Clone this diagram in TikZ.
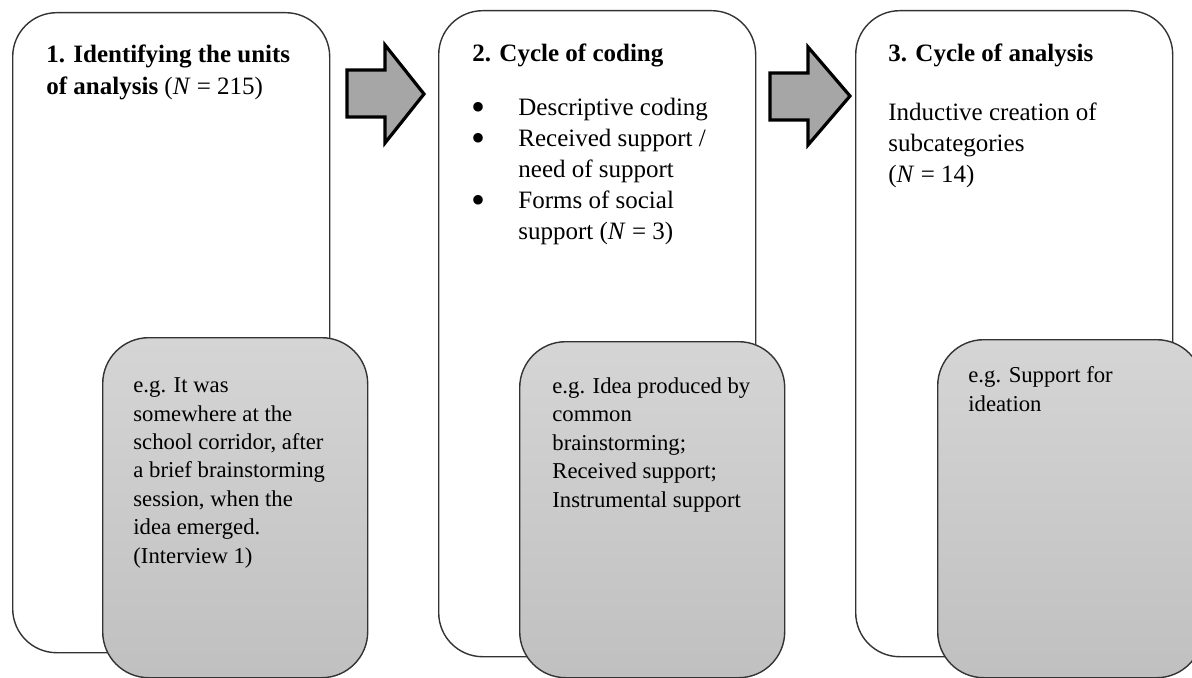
\documentclass[tikz,border=0pt]{standalone}
\usepackage{fontspec}
\setmainfont{Liberation Serif}
\definecolor{greyTop}{HTML}{D5D5D5}
\definecolor{greyBot}{HTML}{C0C0C0}
\definecolor{arrowGrey}{HTML}{A6A6A6}
\definecolor{edgeGrey}{HTML}{333333}
\newcommand{\bigbul}{\makebox[23.5pt][l]{\smash{\raisebox{-2.4pt}{\fontsize{20}{20}\selectfont •}}}}
\begin{document}
\begin{tikzpicture}[x=0.5pt,y=-0.5pt,
  whitebox/.style={draw=edgeGrey, line width=0.7pt, rounded corners=22pt, fill=white, inner sep=0pt, anchor=north west},
  greybox/.style={draw=edgeGrey, line width=0.7pt, rounded corners=23pt, top color=greyTop, bottom color=greyBot, inner sep=0pt, anchor=north west},
  blockarrow/.style={draw=black, line width=1.6pt, fill=arrowGrey, line join=miter},
  titletext/.style={anchor=base west, inner sep=0pt, align=left, font=\fontsize{12.5}{16}\selectfont},
  bodytext/.style={anchor=base west, inner sep=0pt, align=left, font=\fontsize{12.5}{15.5}\selectfont},
  notetext/.style={anchor=base west, inner sep=0pt, align=left, font=\fontsize{11.35}{14.2}\selectfont},
]
\useasboundingbox (0,0) rectangle (1192,678);
\begin{scope}
\clip (0,0) rectangle (1192,678);
% white stage boxes
\node[whitebox, minimum width=158.5pt, minimum height=320pt] (box1) at (12,12) {};
\node[whitebox, minimum width=158.5pt, minimum height=323pt] (box2) at (438,10) {};
\node[whitebox, minimum width=158.5pt, minimum height=323pt] (box3) at (855,10) {};
% grey example boxes
\node[greybox, minimum width=132.5pt, minimum height=170pt] (ex1) at (102,337) {};
\node[greybox, minimum width=132.5pt, minimum height=168pt] (ex2) at (519,341) {};
\node[greybox, minimum width=132.5pt, minimum height=169pt] (ex3) at (937,339) {};
\end{scope}
% block arrows
\draw[blockarrow] (347,70) -- (385,70) -- (385,45) -- (424,94) -- (385,143) -- (385,117) -- (347,117) -- cycle;
\draw[blockarrow] (770,73) -- (808,73) -- (808,47) -- (850,96) -- (808,145) -- (808,120) -- (770,120) -- cycle;
% titles (anchor = baseline of the last line)
\node[titletext] (t1) at (46,95) {\textbf{1. Identifying the units}\\\textbf{of analysis} (\textit{N} = 215)};
\node[titletext] (t2) at (472,62) {\textbf{2. Cycle of coding}};
\node[titletext] (t3) at (888,62) {\textbf{3. Cycle of analysis}};
% body of box 2
\node[bodytext] (b2) at (471,240) {\bigbul Descriptive coding\\
\bigbul Received support /\\
\hspace*{23.5pt}need of support\\
\bigbul Forms of social\\
\hspace*{23.5pt}support (\textit{N} = 3)};
% body of box 3
\node[bodytext] (b3) at (888,183) {Inductive creation of\\subcategories\\(\textit{N} = 14)};
% example texts
\node[notetext] (n1) at (133,563) {e.g. It was\\somewhere at the\\school corridor, after\\a brief brainstorming\\session, when the\\idea emerged.\\(Interview 1)};
\node[notetext] (n2) at (552,507) {e.g. Idea produced by\\common\\brainstorming;\\Received support;\\Instrumental support};
\node[notetext] (n3) at (968,411) {e.g. Support for\\ideation};
\end{tikzpicture}
\end{document}
